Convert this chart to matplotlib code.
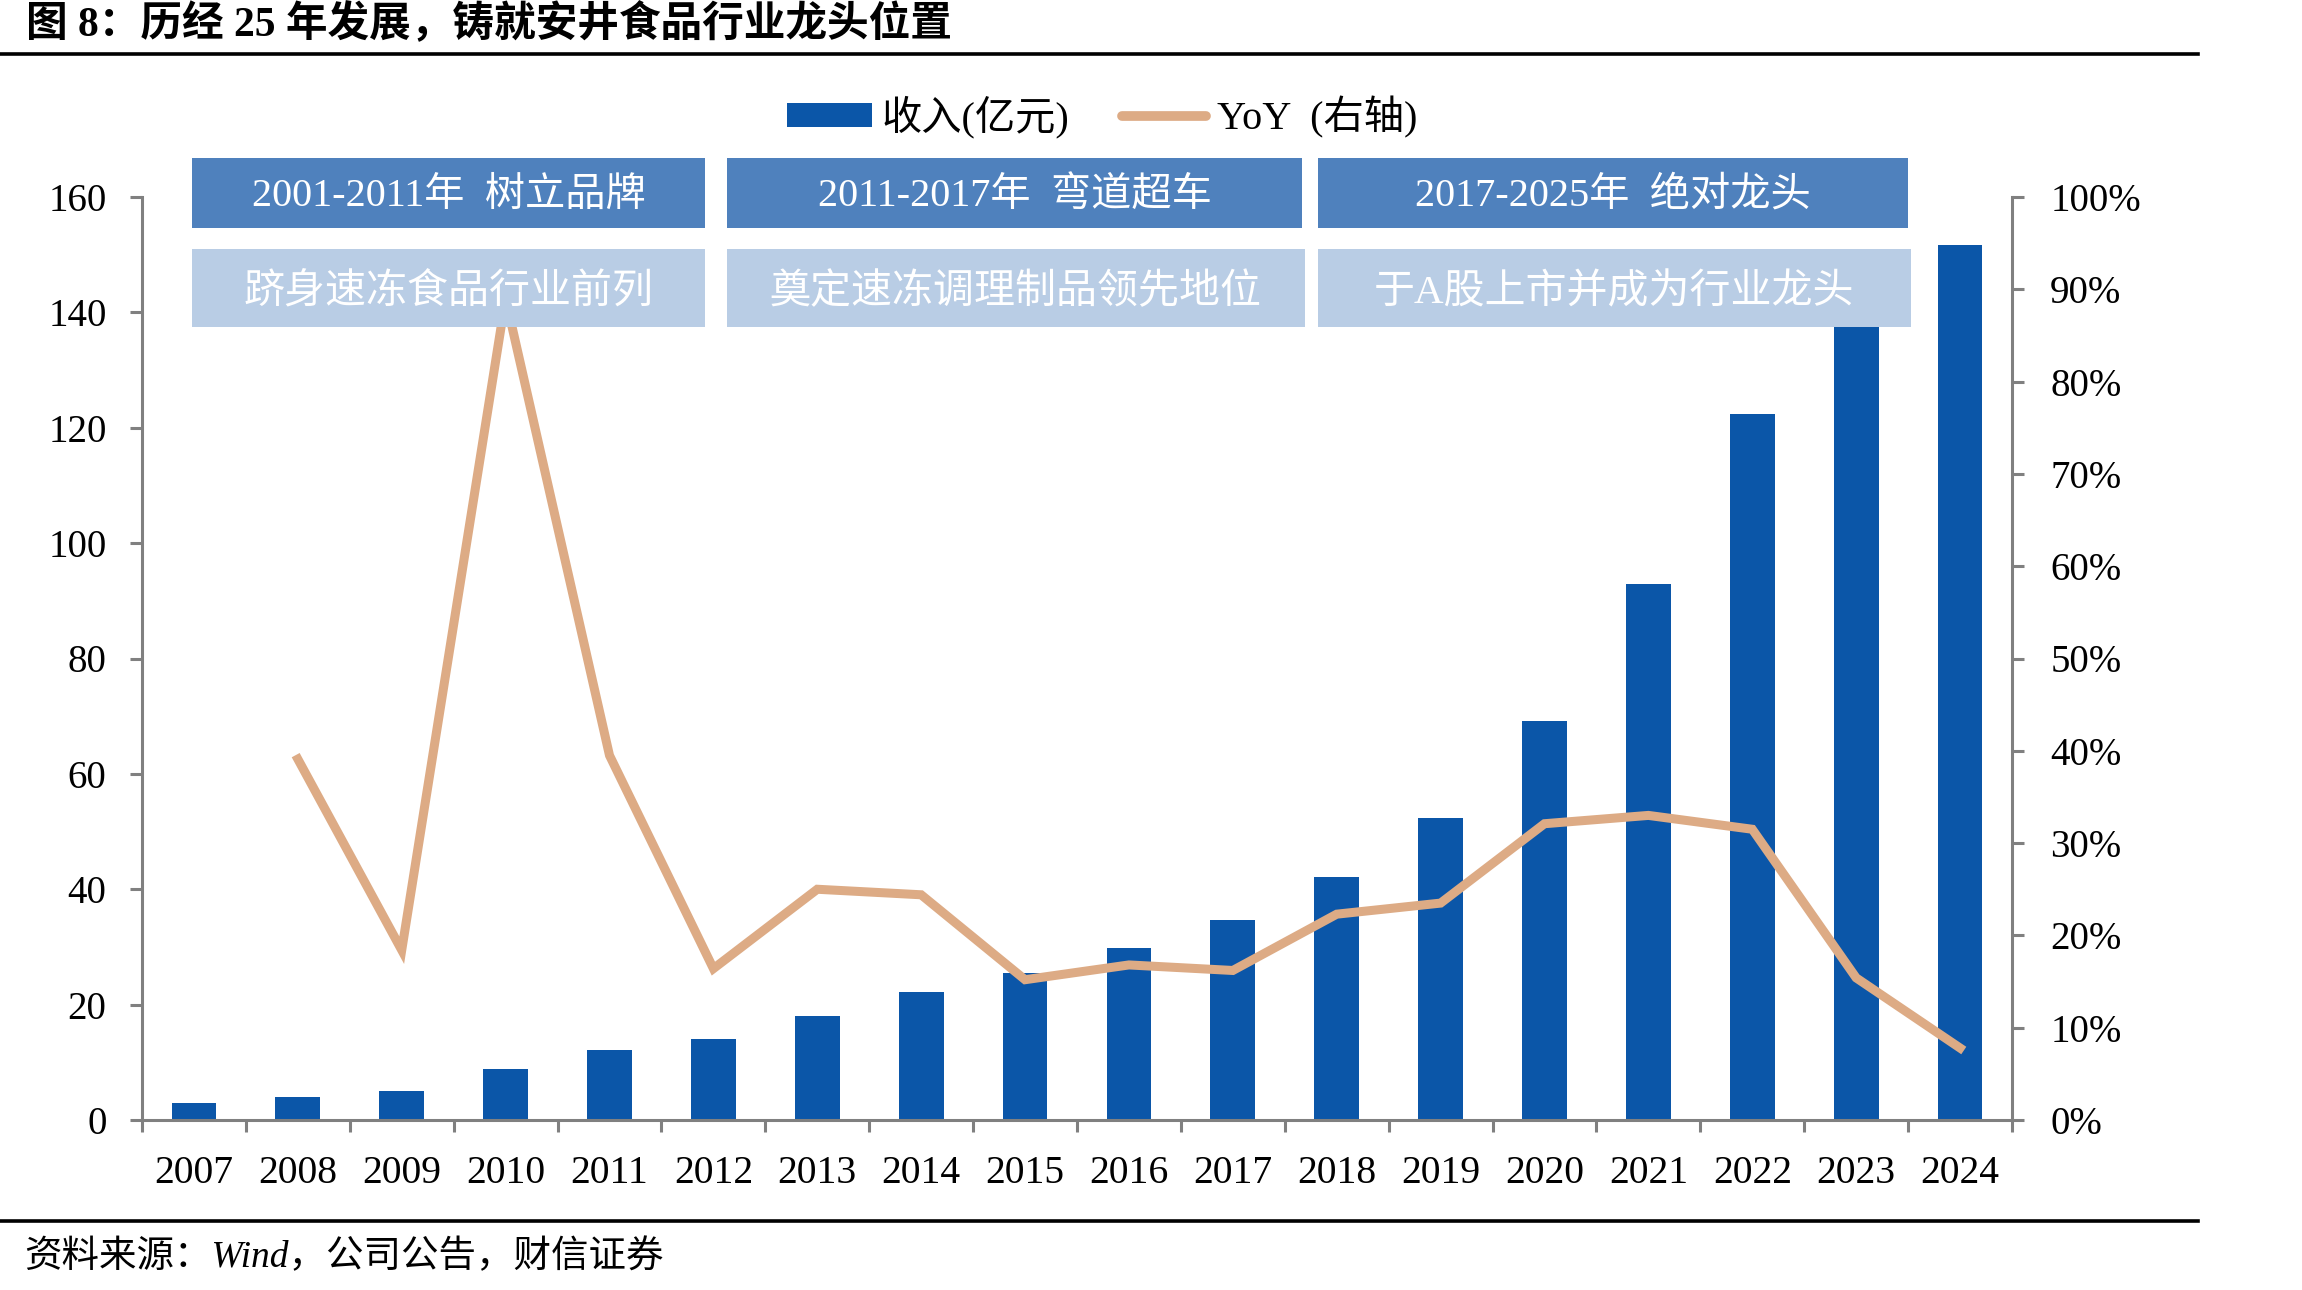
import numpy as np
import matplotlib
matplotlib.use("Agg")
import matplotlib.pyplot as plt
from matplotlib.patches import Rectangle, Patch
from matplotlib.lines import Line2D

plt.rcParams['font.family'] = ['Liberation Serif', 'Noto Sans CJK SC', 'DejaVu Sans']
plt.rcParams['axes.unicode_minus'] = False

# ---------------- data ----------------
years = ['2007', '2008', '2009', '2010', '2011', '2012', '2013', '2014', '2015',
         '2016', '2017', '2018', '2019', '2020', '2021', '2022', '2023', '2024']
revenue = [2.9, 4.0, 5.0, 8.8, 12.1, 14.1, 18.0, 22.2, 25.5,
           29.8, 34.7, 42.2, 52.4, 69.1, 93.0, 122.3, 140.5, 151.7]
yoy = [np.nan, 39.1, 18.4, 89.0, 39.5, 16.4, 25.0, 24.4, 15.2,
       16.8, 16.2, 22.3, 23.5, 32.1, 33.0, 31.5, 15.4, 7.8]
left_ticks = [0, 20, 40, 60, 80, 100, 120, 140, 160]
right_ticks = [0, 10, 20, 30, 40, 50, 60, 70, 80, 90, 100]
right_labels = ['0%', '10%', '20%', '30%', '40%', '50%', '60%', '70%', '80%', '90%', '100%']
stage_titles = ['2001-2011年  树立品牌', '2011-2017年  弯道超车', '2017-2025年  绝对龙头']
stage_descs = ['跻身速冻食品行业前列', '奠定速冻调理制品领先地位', '于A股上市并成为行业龙头']
title = '图 8：历经 25 年发展，铸就安井食品行业龙头位置'
source = '资料来源：Wind，公司公告，财信证券'
legend_labels = ['收入(亿元)', 'YoY  (右轴)']

BAR_C = '#0B56A8'
LINE_C = '#DDAB85'
DARK_BOX = '#4F81BD'
LIGHT_BOX = '#B9CDE5'
SPINE_C = '#808080'

W, H = 2302, 1290
fig = plt.figure(figsize=(W / 100, H / 100), dpi=100)

def fx(px):
    return px / W

def fy(py):
    return 1 - py / H

ax_l, ax_r, ax_t, ax_b = 142, 2012, 197, 1120
ax = fig.add_axes([fx(ax_l), fy(ax_b), fx(ax_r) - fx(ax_l), fy(ax_t) - fy(ax_b)])
ax2 = ax.twinx()

x = np.arange(len(years))
ax.bar(x, revenue, width=0.43, color=BAR_C, zorder=2)
ax.set_xlim(-0.5, len(years) - 0.5)
ax.set_ylim(0, 160)
ax.set_yticks(left_ticks)
ax.set_xticks(x)
ax.set_xticklabels(years)
ax.set_xticks(np.arange(-0.5, len(years), 1.0), minor=True)

ax2.plot(x, yoy, color=LINE_C, lw=6.5, solid_joinstyle='miter', zorder=3)
ax2.set_ylim(0, 100)
ax2.set_yticks(right_ticks)
ax2.set_yticklabels(right_labels)

for a in (ax, ax2):
    a.set_facecolor('none')
    for s in a.spines.values():
        s.set_color(SPINE_C)
        s.set_linewidth(2.2)
    a.spines['top'].set_visible(False)
ax.spines['right'].set_visible(False)
ax2.spines['left'].set_visible(False)
ax2.spines['bottom'].set_visible(False)

ax.tick_params(axis='y', direction='out', length=8.5, width=2.2, color=SPINE_C,
               labelsize=28, pad=17, labelcolor='black')
ax2.tick_params(axis='y', direction='out', length=8.5, width=2.2, color=SPINE_C,
                labelsize=28, pad=19, labelcolor='black')
ax.tick_params(axis='x', which='major', length=0, labelsize=28.5, pad=25, labelcolor='black')
ax.tick_params(axis='x', which='minor', direction='out', length=8.5, width=2.2, color=SPINE_C)
ax2.set_zorder(ax.get_zorder() + 1)

# legend
handles = [Patch(facecolor=BAR_C, edgecolor='none'),
           Line2D([0], [0], color=LINE_C, lw=7, solid_capstyle='round')]
fig.legend(handles, legend_labels, loc='center', bbox_to_anchor=(fx(1102), fy(117)),
           ncol=2, frameon=False, fontsize=29, handlelength=2.1, handleheight=0.55,
           handletextpad=0.25, columnspacing=1.3)

# stage boxes
row1 = [(192, 705), (727, 1302), (1318, 1908)]
row2 = [(192, 705), (727, 1305), (1318, 1911)]
for (x0, x1), txt in zip(row1, stage_titles):
    fig.add_artist(Rectangle((fx(x0), fy(228)), fx(x1) - fx(x0), fy(158) - fy(228),
                             transform=fig.transFigure, facecolor=DARK_BOX,
                             edgecolor='none', zorder=10))
    fig.text(fx((x0 + x1) / 2), fy(196), txt, ha='center', va='center', color='white',
             fontsize=29, zorder=11)
for (x0, x1), txt in zip(row2, stage_descs):
    fig.add_artist(Rectangle((fx(x0), fy(327)), fx(x1) - fx(x0), fy(249) - fy(327),
                             transform=fig.transFigure, facecolor=LIGHT_BOX,
                             edgecolor='none', zorder=10))
    fig.text(fx((x0 + x1) / 2), fy(293), txt, ha='center', va='center', color='white',
             fontsize=29.5, fontweight='light', zorder=11)

# title, rules and source
fig.text(fx(26), fy(24), title, ha='left', va='center', fontsize=30, fontweight='bold',
         color='black')
fig.add_artist(Line2D([0, fx(2198)], [fy(54), fy(54)], transform=fig.transFigure,
                      color='black', lw=2.6))
fig.add_artist(Line2D([0, fx(2198)], [fy(1221), fy(1221)], transform=fig.transFigure,
                      color='black', lw=2.6))
fig.text(fx(24), fy(1257), source, ha='left', va='center', fontsize=27, style='italic',
         color='black')

fig.savefig('out.png', dpi=100)
